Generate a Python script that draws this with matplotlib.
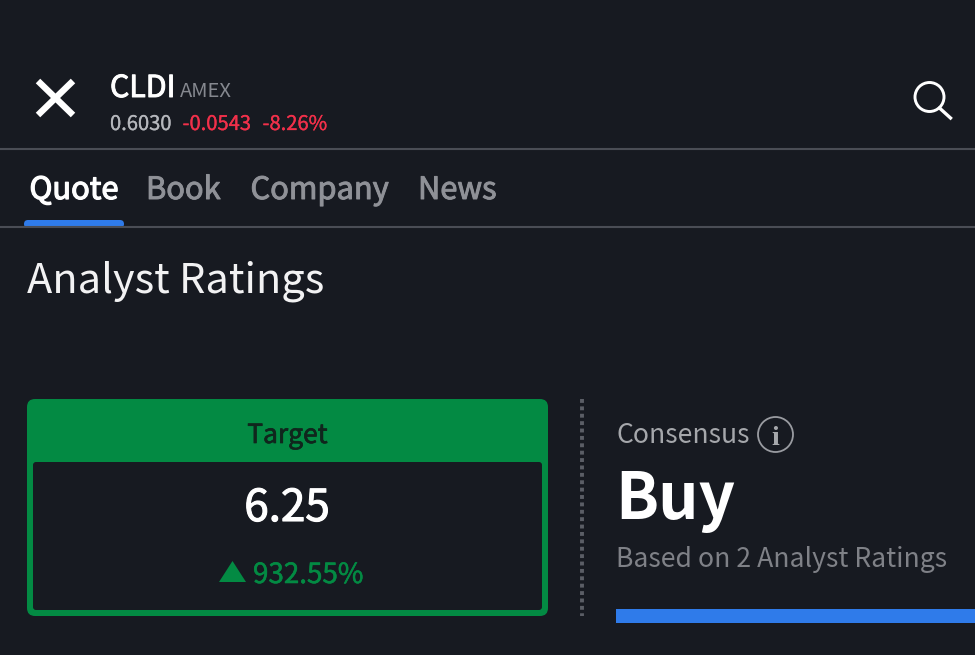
import matplotlib
matplotlib.use("Agg")
from matplotlib import pyplot as plt
from matplotlib import patheffects as pe
from matplotlib.patches import FancyBboxPatch, Rectangle, Circle, Polygon

plt.rcParams['font.family'] = ['Noto Sans CJK SC', 'DejaVu Sans']

# data
symbol = "CLDI"
exchange = "AMEX"
last_price = "0.6030"
change = "-0.0543"
change_pct = "-8.26%"
tabs = ["Quote", "Book", "Company", "News"]
tab_x = [29.5, 146, 250.5, 418]
page_title = "Analyst Ratings"
target_label = "Target"
target_value = "6.25"
target_upside = "932.55%"
consensus_label = "Consensus"
consensus_value = "Buy"
consensus_note = "Based on 2 Analyst Ratings"

BG = "#171a21"
GREEN = "#038a43"
RED = "#f0304a"
BLUE = "#2f7bea"
LINE = "#4a4d55"

fig = plt.figure(figsize=(9.75, 6.55), dpi=100, facecolor=BG)
ax = fig.add_axes([0, 0, 1, 1])
ax.set_xlim(0, 975)
ax.set_ylim(655, 0)
ax.axis("off")


def txt(x, y, s, size, color, weight="normal", ha="left", stroke=0):
    t = ax.text(x, y, s, fontsize=size, color=color, fontweight=weight,
                ha=ha, va="baseline")
    # the font has no medium weight here, so thicken regular a bit
    if stroke:
        t.set_path_effects([pe.withStroke(linewidth=stroke, foreground=color)])
    return t


# header
ax.plot([38, 73], [81, 115], color="white", lw=4.6, solid_capstyle="butt")
ax.plot([73, 38], [81, 115], color="white", lw=4.6, solid_capstyle="butt")
txt(110, 97, symbol, 21.8, "white", stroke=0.7)
txt(180, 97, exchange, 14.5, "#85888f")
txt(110, 130, last_price, 14.5, "#b5b7bc", stroke=0.2)
txt(182.5, 130, change, 14.5, RED, stroke=0.2)
txt(262.5, 130, change_pct, 14.5, RED, stroke=0.2)

# search icon
ax.add_patch(Circle((929.5, 97), 14.5, fill=False, ec="white", lw=2.1))
ax.plot([939.5, 950.5], [108, 118], color="white", lw=2.4)

# tabs
ax.add_patch(FancyBboxPatch((24, 220), 100, 8, boxstyle="round,pad=0,rounding_size=4",
                            fc=BLUE, ec="none", zorder=2))
ax.plot([0, 975], [149, 149], color=LINE, lw=1.5)
ax.plot([0, 975], [227, 227], color=LINE, lw=1.5, zorder=3)
for i, (name, x) in enumerate(zip(tabs, tab_x)):
    txt(x, 199, name, 22.2, "white" if i == 0 else "#8f9197", stroke=0.9 if i == 0 else 0.7)

txt(27, 292, page_title, 29.9, "#f2f2f3")

# target card
ax.add_patch(FancyBboxPatch((27, 399), 521, 217, boxstyle="round,pad=0,rounding_size=8",
                            fc=GREEN, ec="none"))
ax.add_patch(FancyBboxPatch((33, 462), 509, 148, boxstyle="round,pad=0,rounding_size=3",
                            fc=BG, ec="none"))
txt(287.5, 443, target_label, 19, "#10261d", ha="center", stroke=0.5)
txt(287, 521, target_value, 31.7, "white", ha="center", stroke=0.8)
ax.add_patch(Polygon([(219, 582), (246, 582), (232.5, 561)], fc=GREEN, ec="none"))
txt(253, 583, target_upside, 20, GREEN, stroke=0.4)

# divider
ax.plot([582, 582], [399, 616], color="#5b5e66", lw=2.8, ls=(0, (1.0, 0.9)))

# consensus
txt(616, 443, consensus_label, 19.1, "#a5a7ab")
ax.add_patch(Circle((775.5, 434.5), 17.5, fill=False, ec="#9a9ca1", lw=1.3))
ax.text(775.5, 445, "i", fontsize=20, color="#a5a7ab", ha="center", va="baseline",
        family=["Liberation Serif", "DejaVu Serif"], fontweight="bold")
txt(615, 519, consensus_value, 45.7, "white", "bold")
txt(616, 567, consensus_note, 19.1, "#7f8187")
ax.add_patch(Rectangle((616, 609), 359, 14, fc=BLUE, ec="none"))

fig.savefig("out.png", dpi=100, facecolor=BG)
